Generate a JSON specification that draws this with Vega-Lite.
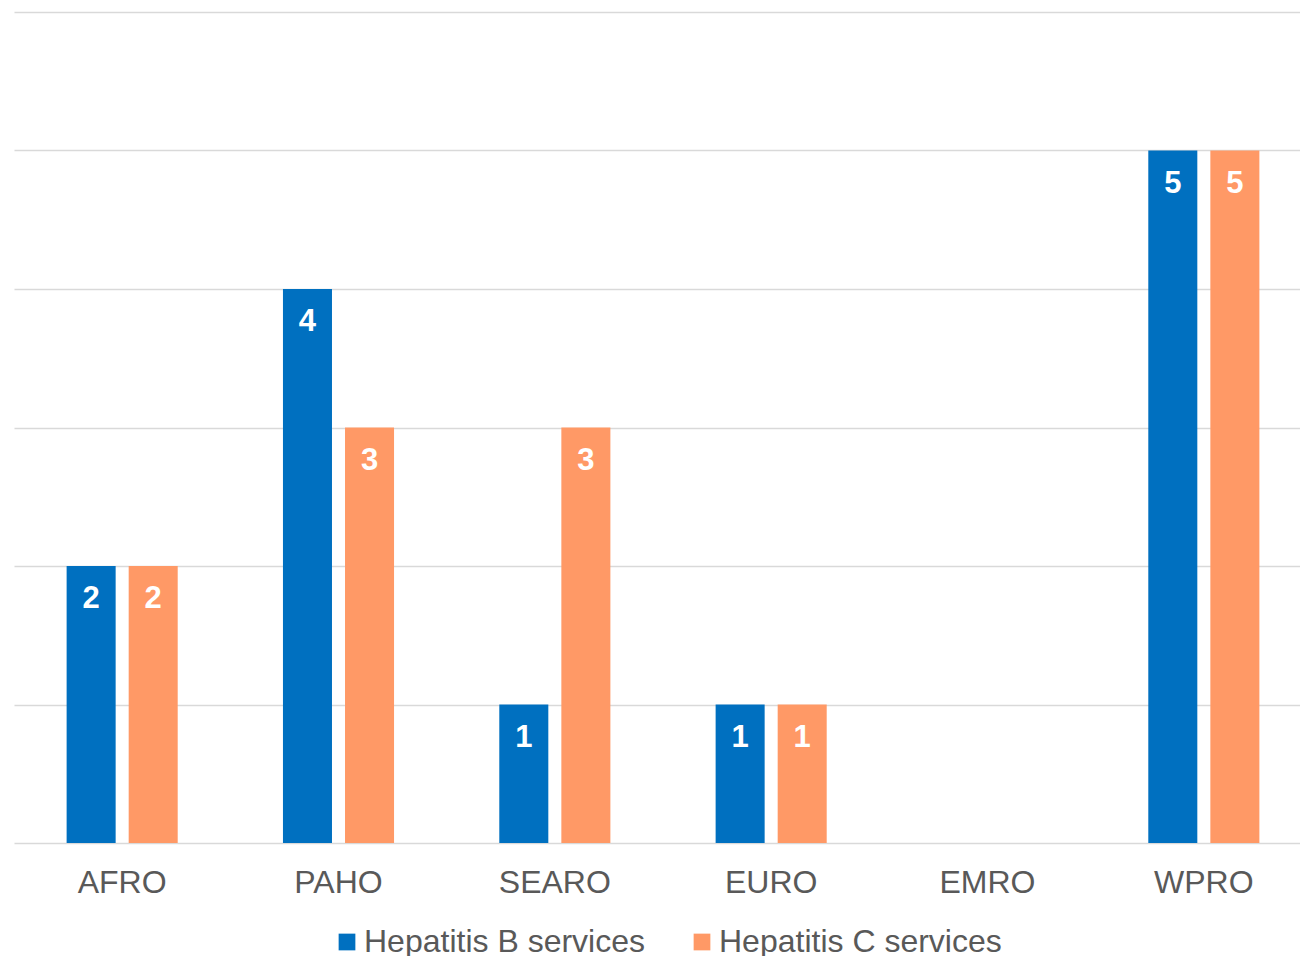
{
  "$schema": "https://vega.github.io/schema/vega-lite/v6.json",
  "width": 1286,
  "height": 831,
  "autosize": {"type": "none"},
  "padding": {"left": 14, "top": 12, "right": 0, "bottom": 113},
  "background": "white",
  "data": {
    "values": [
      {"region": "AFRO", "series": "Hepatitis B services", "value": 2},
      {"region": "AFRO", "series": "Hepatitis C services", "value": 2},
      {"region": "PAHO", "series": "Hepatitis B services", "value": 4},
      {"region": "PAHO", "series": "Hepatitis C services", "value": 3},
      {"region": "SEARO", "series": "Hepatitis B services", "value": 1},
      {"region": "SEARO", "series": "Hepatitis C services", "value": 3},
      {"region": "EURO", "series": "Hepatitis B services", "value": 1},
      {"region": "EURO", "series": "Hepatitis C services", "value": 1},
      {"region": "WPRO", "series": "Hepatitis B services", "value": 5},
      {"region": "WPRO", "series": "Hepatitis C services", "value": 5}
    ]
  },
  "encoding": {
    "x": {
      "field": "region",
      "type": "nominal",
      "scale": {
        "domain": ["AFRO", "PAHO", "SEARO", "EURO", "EMRO", "WPRO"],
        "range": [0, 1298],
        "paddingInner": 0,
        "paddingOuter": 0
      },
      "axis": {
        "title": null,
        "labelAngle": 0,
        "labelFontSize": 32,
        "labelColor": "#595959",
        "labelFont": "Liberation Sans",
        "ticks": false,
        "tickSize": 0,
        "domain": false,
        "labelPadding": 24
      }
    },
    "xOffset": {
      "field": "series",
      "type": "nominal",
      "scale": {
        "domain": ["Hepatitis B services", "Hepatitis C services"],
        "paddingInner": 0.21,
        "paddingOuter": 0.848
      }
    },
    "y": {
      "field": "value",
      "type": "quantitative",
      "scale": {"domain": [0, 6], "nice": false},
      "axis": {
        "title": null,
        "labels": false,
        "ticks": false,
        "domain": false,
        "values": [0, 1, 2, 3, 4, 5, 6],
        "gridColor": "#D9D9D9",
        "gridWidth": 1.5
      }
    }
  },
  "layer": [
    {
      "mark": {"type": "bar"},
      "encoding": {
        "color": {
          "field": "series",
          "type": "nominal",
          "scale": {
            "domain": ["Hepatitis B services", "Hepatitis C services"],
            "range": ["#0070C0", "#FF9966"]
          },
          "legend": {
            "orient": "none",
            "legendX": 317,
            "legendY": 914,
            "direction": "horizontal",
            "title": null,
            "symbolType": "square",
            "symbolSize": 280,
            "symbolStrokeWidth": 0,
            "symbolOpacity": 1,
            "labelFontSize": 32,
            "labelColor": "#595959",
            "labelFont": "Liberation Sans",
            "labelLimit": 0,
            "columnPadding": 41,
            "labelOffset": 1
          }
        }
      }
    },
    {
      "mark": {
        "type": "text",
        "color": "white",
        "fontWeight": "bold",
        "fontSize": 31,
        "font": "Liberation Sans",
        "baseline": "alphabetic",
        "dy": 42
      },
      "encoding": {"text": {"field": "value", "type": "quantitative"}}
    }
  ],
  "config": {"view": {"stroke": null}}
}
